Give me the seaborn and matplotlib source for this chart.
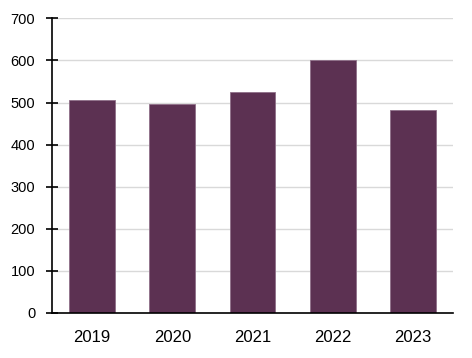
import matplotlib
matplotlib.use("Agg")
import matplotlib.pyplot as plt
import seaborn as sns
import pandas as pd

years = ["2019", "2020", "2021", "2022", "2023"]
values = [505, 497, 526, 601, 483]
y_ticks = [0, 100, 200, 300, 400, 500, 600, 700]

sns.set_style("white")
plt.rcParams['font.family'] = ['Liberation Sans', 'DejaVu Sans']

df = pd.DataFrame({"year": years, "value": values})

fig = plt.figure(figsize=(4.72, 3.58), dpi=100)
ax = fig.add_axes([52/472, 45/358, (453-52)/472, (313-18.3)/358])

sns.barplot(data=df, x="year", y="value", color="#5C3152", saturation=1,
            width=0.57, edgecolor="#8f6f88", linewidth=0.6, ax=ax, zorder=3)

ax.set_ylim(0, 700)
ax.set_xlim(-0.5, 4.5)
ax.set_yticks(y_ticks)
ax.set_xlabel("")
ax.set_ylabel("")
ax.yaxis.grid(True, color="#d9d9d9", linewidth=1.0, zorder=0)
ax.set_axisbelow(True)

for s in ["top", "right"]:
    ax.spines[s].set_visible(False)
for s in ["left", "bottom"]:
    ax.spines[s].set_color("black")
    ax.spines[s].set_linewidth(1.2)
    ax.spines[s].set_zorder(4)

ax.tick_params(axis="y", direction="inout", length=8, width=1.2, color="black",
               labelsize=10.5, pad=8, labelcolor="black", left=True)
ax.tick_params(axis="x", length=0, labelsize=12, pad=12.5, labelcolor="black")

fig.savefig("out.png", dpi=100)
